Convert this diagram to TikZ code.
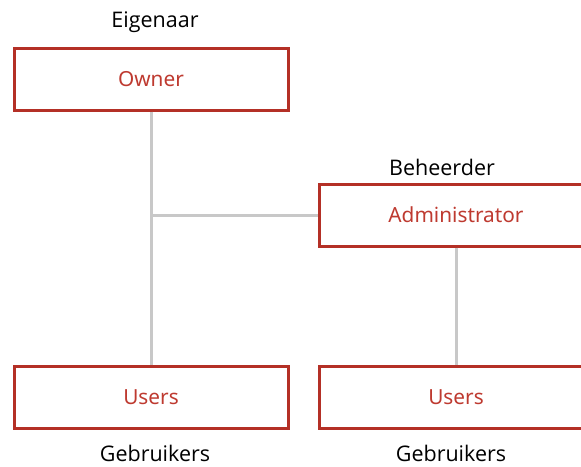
\documentclass[tikz,border=0pt]{standalone}
\usepackage{fontspec}
\setmainfont{Open Sans}
\newfontfamily\boxfont{Noto Sans}
\usetikzlibrary{positioning}
\definecolor{boxred}{RGB}{180,48,38}
\definecolor{textred}{RGB}{190,58,48}
\definecolor{linegray}{RGB}{200,200,200}
\tikzset{
	every node/.style={font=\fontsize{21.5}{24}\selectfont},
	caption/.style={inner sep=0pt},
	role/.style={rectangle,draw=boxred,line width=3pt,minimum width=274pt,minimum height=62pt,text=textred,font=\boxfont\fontsize{20.8}{24}\selectfont},
	link/.style={draw=linegray,line width=3pt}
}

\begin{document}
\begin{tikzpicture}[x=1pt,y=-1pt]
	\clip (0,0) rectangle (581,466);
	\node[role] (owner) at (151,79) {Owner};
	\node[role] (admin) at (456,215) {Administrator};
	\node[role] (usersL) at (151,397) {Users};
	\node[role] (usersR) at (456,397) {Users};
	\node[caption] (eigenaar) [above=14pt of owner, xshift=4pt] {Eigenaar};
	\node[caption] (beheerder) [above=7pt of admin, xshift=-14pt] {Beheerder};
	\node[caption] (gebruikersL) [below=15.5pt of usersL, xshift=4pt] {Gebruikers};
	\node[caption] (gebruikersR) [below=15.5pt of usersR, xshift=-5pt] {Gebruikers};
	\path[link] (owner) -- (usersL);
	\path[link] (owner.south |- admin.west) -- (admin.west);
	\path[link] (admin) -- (usersR);
\end{tikzpicture}
\end{document}
